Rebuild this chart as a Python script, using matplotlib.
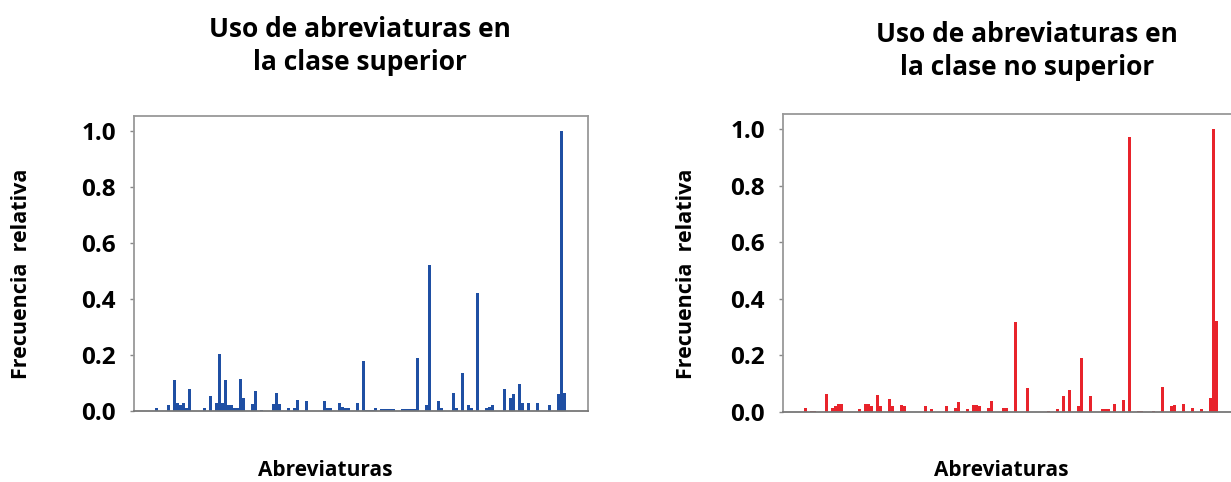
import numpy as np
import matplotlib
matplotlib.use("Agg")
import matplotlib.pyplot as plt
from matplotlib.ticker import FormatStrFormatter

plt.rcParams['font.family'] = ['Open Sans', 'DejaVu Sans']
plt.rcParams['font.weight'] = 'bold'

# number of abbreviations on the x axis
n_abrev = 151

# relative frequency per abbreviation index (only non-zero ones listed)
sup_idx = [7, 11, 13, 14, 15, 16, 17, 18, 23, 25, 27, 28, 29, 30, 31, 32, 33, 34,
           35, 36, 39, 40, 42, 46, 47, 48, 51, 53, 54, 57, 63, 64, 65, 68, 69, 70,
           71, 74, 76, 77, 78, 79, 80, 82, 83, 84, 85, 86, 89, 90, 91, 92, 93, 94,
           97, 98, 101, 102, 106, 107, 109, 111, 112, 114, 117, 118, 119, 123, 125,
           126, 128, 129, 131, 134, 138, 141, 142, 143]
sup_val = [0.01, 0.02, 0.11, 0.03, 0.02, 0.03, 0.01, 0.08, 0.01, 0.055, 0.03, 0.205,
           0.03, 0.11, 0.02, 0.02, 0.01, 0.01, 0.115, 0.045, 0.025, 0.07, 0.005,
           0.025, 0.065, 0.025, 0.01, 0.01, 0.04, 0.035, 0.035, 0.01, 0.01, 0.03,
           0.015, 0.01, 0.01, 0.03, 0.18, 0.005, 0.005, 0.005, 0.01, 0.006, 0.006,
           0.006, 0.006, 0.006, 0.008, 0.008, 0.008, 0.008, 0.008, 0.19, 0.02, 0.52,
           0.035, 0.01, 0.065, 0.01, 0.135, 0.02, 0.01, 0.42, 0.01, 0.015, 0.02,
           0.08, 0.045, 0.06, 0.095, 0.03, 0.03, 0.03, 0.02, 0.06, 1.0, 0.065]

nosup_idx = [7, 9, 10, 14, 16, 17, 18, 19, 25, 27, 28, 29, 31, 32, 35, 36, 39, 40,
             47, 49, 54, 57, 58, 61, 63, 64, 65, 68, 69, 73, 74, 77, 81, 88, 91, 93,
             95, 98, 99, 102, 106, 107, 108, 110, 113, 115, 118, 119, 123, 126, 129,
             130, 133, 136, 139, 142, 143, 144]
nosup_val = [0.015, 0.003, 0.004, 0.065, 0.015, 0.02, 0.03, 0.03, 0.01, 0.03, 0.03,
             0.02, 0.06, 0.02, 0.045, 0.02, 0.025, 0.02, 0.02, 0.012, 0.02, 0.015,
             0.035, 0.01, 0.025, 0.025, 0.02, 0.015, 0.04, 0.015, 0.015, 0.318,
             0.085, 0.003, 0.01, 0.056, 0.078, 0.02, 0.19, 0.057, 0.01, 0.01, 0.01,
             0.028, 0.043, 0.972, 0.003, 0.003, 0.003, 0.088, 0.02, 0.025, 0.03,
             0.015, 0.01, 0.05, 1.0, 0.32]

yticks = [0.0, 0.2, 0.4, 0.6, 0.8, 1.0]


def full_series(idx, val):
    y = np.zeros(n_abrev)
    y[idx] = val
    return y


def draw_panel(fig, rect, y, color, ytop):
    ax = fig.add_axes(rect)
    ax.bar(np.arange(n_abrev), y, width=0.95, color=color, linewidth=0)
    ax.set_xlim(-0.5, 150.8)
    ax.set_ylim(0, ytop)
    ax.set_xticks([])
    ax.set_yticks(yticks)
    ax.yaxis.set_major_formatter(FormatStrFormatter('%.1f'))
    ax.tick_params(axis='y', direction='out', length=3, width=1, color='#888888',
                   labelsize=17.5, pad=10)
    for s in ax.spines.values():
        s.set_color('#999999')
        s.set_linewidth(1.3)
    ax.spines['bottom'].set_color('#777777')
    return ax


W, H = 1231, 482
fig = plt.figure(figsize=(W / 100, H / 100), dpi=100)

draw_panel(fig, [134 / W, 1 - 411 / H, 454 / W, 295 / H],
           full_series(sup_idx, sup_val), '#1f4fa3', 1.054)
draw_panel(fig, [783 / W, 1 - 412 / H, 454 / W, 298 / H],
           full_series(nosup_idx, nosup_val), '#e8232b', 1.053)

# titles
fig.text(360 / W, 1 - 46 / H, 'Uso de abreviaturas en\nla clase superior',
         ha='center', va='center', fontsize=19, fontweight='bold', linespacing=1.3)
fig.text(1027 / W, 1 - 51 / H, 'Uso de abreviaturas en\nla clase no superior',
         ha='center', va='center', fontsize=19, fontweight='bold', linespacing=1.3)

# axis labels
fig.text(22 / W, 1 - 274 / H, 'Frecuencia  relativa', rotation=90,
         ha='center', va='center', fontsize=15.5, fontweight='bold')
fig.text(686 / W, 1 - 274 / H, 'Frecuencia  relativa', rotation=90,
         ha='center', va='center', fontsize=15.5, fontweight='bold')
fig.text(325 / W, 1 - 470 / H, 'Abreviaturas',
         ha='center', va='center', fontsize=15, fontweight='bold')
fig.text(1001 / W, 1 - 470 / H, 'Abreviaturas',
         ha='center', va='center', fontsize=15, fontweight='bold')

fig.savefig('out.png', dpi=100)
